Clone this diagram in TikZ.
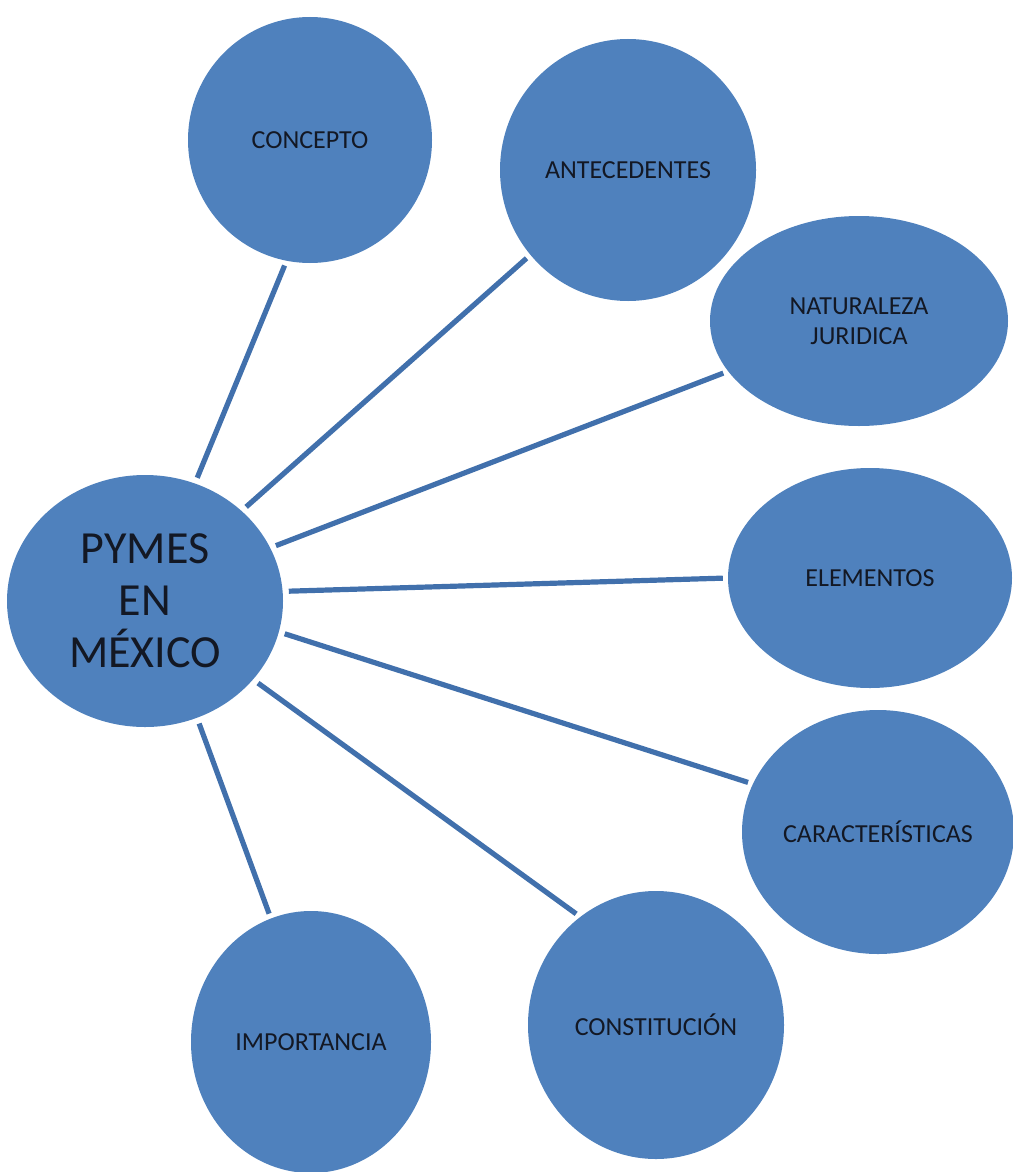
\documentclass[tikz,border=0pt]{standalone}
\usepackage{fontspec}
\setmainfont{Carlito}
\usetikzlibrary{shapes.geometric}
\definecolor{bubble}{HTML}{4F81BD}
\definecolor{link}{HTML}{4170AC}
\definecolor{ink}{HTML}{131824}
\begin{document}
\begin{tikzpicture}[x=1pt,y=-1pt,
  bubble/.style={ellipse,fill=bubble,draw=none,inner sep=0pt,text=ink,
    align=center,font=\fontsize{26}{30}\selectfont},
  link/.style={draw=link,line width=5.2pt,shorten <=6pt,shorten >=5pt}]
\useasboundingbox (0,0) rectangle (1012,1172);
% central topic
\node[bubble,minimum width=276pt,minimum height=252pt,
  font=\fontsize{46}{52}\selectfont] (pymes) at (145,601) {PYMES\\EN\\MÉXICO};
% sub-topics around it
\node[bubble,minimum width=244pt,minimum height=246pt] (concepto) at (310,140) {CONCEPTO};
\node[bubble,minimum width=256pt,minimum height=262pt] (antec) at (628,170) {ANTECEDENTES};
\node[bubble,minimum width=298pt,minimum height=210pt] (natur) at (859,321) {NATURALEZA\\JURIDICA};
\node[bubble,minimum width=284pt,minimum height=220pt] (elem) at (870,578) {ELEMENTOS};
\node[bubble,minimum width=272pt,minimum height=244pt] (caract) at (878,832) {CARACTERÍSTICAS};
\node[bubble,minimum width=256pt,minimum height=268pt] (const) at (656,1025) {CONSTITUCIÓN};
\node[bubble,minimum width=240pt,minimum height=262pt] (import) at (311,1042) {IMPORTANCIA};
% spokes
\draw[link] (pymes.67.5) -- (concepto.259.4);
\draw[link] (pymes.43.5) -- (antec.221.3);
\draw[link] (pymes.23.8) -- (natur.201.6);
\draw[link] (pymes.4.3) -- (elem.180);
\draw[link] (pymes.-13.2) -- (caract.159);
\draw[link] (pymes.-36) -- (const.125.6);
\draw[link] (pymes.-66.5) -- (import.108.3);
\end{tikzpicture}
\end{document}
